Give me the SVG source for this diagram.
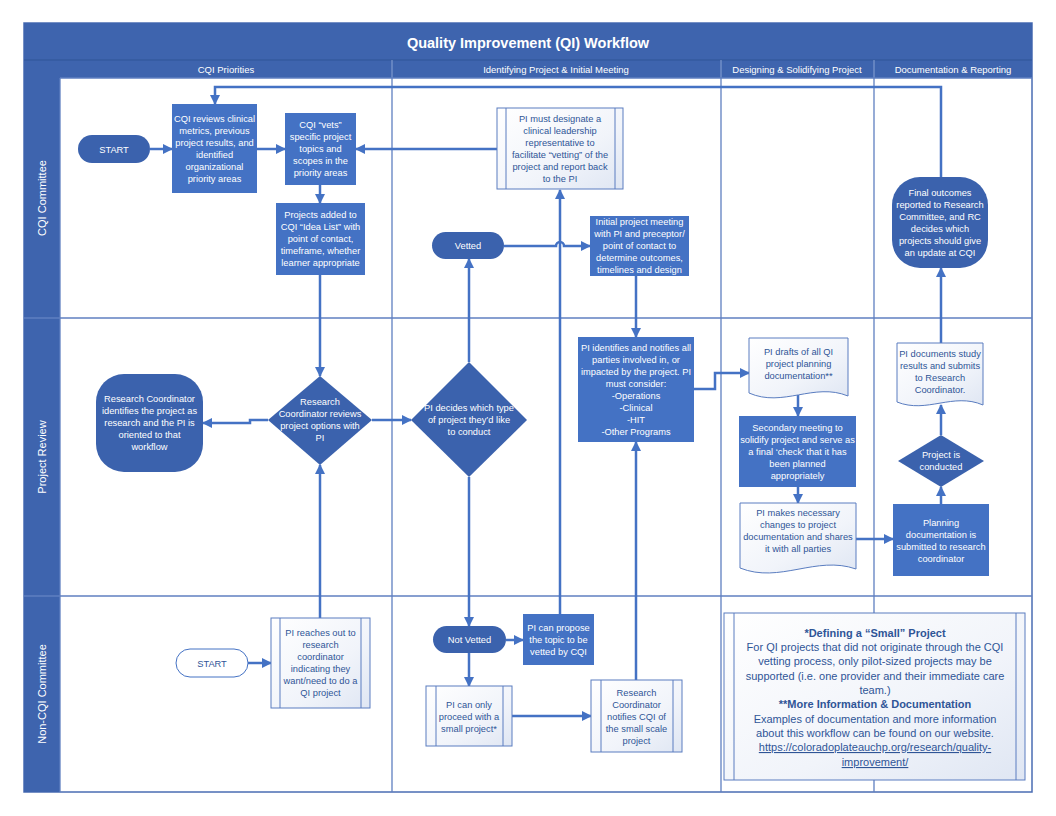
<svg xmlns="http://www.w3.org/2000/svg" width="1056" height="816" viewBox="0 0 1056 816">
<defs>
<linearGradient id="lg" x1="0" y1="0" x2="1" y2="1">
<stop offset="0" stop-color="#ffffff"/>
<stop offset="0.6" stop-color="#f1f4fa"/>
<stop offset="1" stop-color="#dfe6f3"/>
</linearGradient>
<marker id="ah" viewBox="0 0 10 10" refX="9" refY="5" markerWidth="10" markerHeight="10" markerUnits="userSpaceOnUse" orient="auto">
<path d="M0,0 L10,5 L0,10 z" fill="#4472c4"/>
</marker>
</defs>
<style>
text{font-family:"Liberation Sans",Arial,sans-serif;text-anchor:middle}
.w{fill:#ffffff;font-size:9.3px}
.b{fill:#2f5597;font-size:9.3px}
.hd{fill:#ffffff;font-size:9.5px}
.ln{fill:#ffffff;font-size:11px}
.nt{fill:#2f5597;font-size:11px}
.bar{fill:#3e64ae}
.proc{fill:#4472c4}
.dark{fill:#3b62ad}
.lite{fill:url(#lg);stroke:#5a7dc0;stroke-width:1}
.inner{stroke:#5a7dc0;stroke-width:1}
.grid{stroke:#5f7fc0;stroke-width:1.3;fill:none}
.hdiv{stroke:#8aa3d4;stroke-width:1}
.conn{fill:none;stroke:#4472c4;stroke-width:2.5;marker-end:url(#ah)}
.plain{fill:none;stroke:#4472c4;stroke-width:2.5}
</style>
<rect x="0" y="0" width="1056" height="816" fill="#ffffff"/>

<g id="frame">
<rect x="24" y="23" width="1008" height="769" fill="#ffffff" stroke="#4a6cb3" stroke-width="1.5"/>
<rect class="bar" x="24" y="23" width="1008" height="37"/>
<rect class="bar" x="24" y="60" width="1008" height="18"/>
<rect class="bar" x="24" y="78" width="36" height="714"/>
<line x1="24" y1="60" x2="1032" y2="60" stroke="#2f5597" stroke-width="1"/>
<line class="hdiv" x1="392" y1="60" x2="392" y2="78"/>
<line class="hdiv" x1="721" y1="60" x2="721" y2="78"/>
<line class="hdiv" x1="874" y1="60" x2="874" y2="78"/>
<line class="grid" x1="60" y1="78" x2="1032" y2="78"/>
<line class="grid" x1="392" y1="78" x2="392" y2="792"/>
<line class="grid" x1="721" y1="78" x2="721" y2="792"/>
<line class="grid" x1="874" y1="78" x2="874" y2="792"/>
<line class="grid" x1="24" y1="318" x2="1032" y2="318"/>
<line class="grid" x1="24" y1="596" x2="1032" y2="596"/>
<line class="grid" x1="60" y1="78" x2="60" y2="792"/>
<text x="528" y="48" fill="#ffffff" font-size="14.5px" font-weight="bold">Quality Improvement (QI) Workflow</text>
<text class="hd" x="226" y="72.5">CQI Priorities</text>
<text class="hd" x="556" y="72.5">Identifying Project &amp; Initial Meeting</text>
<text class="hd" x="797" y="72.5">Designing &amp; Solidifying Project</text>
<text class="hd" x="953" y="72.5">Documentation &amp; Reporting</text>
<text class="ln" transform="translate(46,198) rotate(-90)">CQI Committee</text>
<text class="ln" transform="translate(46,457) rotate(-90)">Project Review</text>
<text class="ln" transform="translate(46,694) rotate(-90)">Non-CQI Committee</text>
</g>

<g id="connectors">
<path class="conn" d="M150,149 H172"/>
<path class="conn" d="M257,149 H285"/>
<path class="conn" d="M320,185 V203"/>
<path class="conn" d="M320,275 V376"/>
<path class="conn" d="M268,420 H250 V423 H203"/>
<path class="conn" d="M320,618 V465"/>
<path class="conn" d="M372,420 H411"/>
<path class="conn" d="M469,362 V259"/>
<path class="conn" d="M504,246 H556 A4,4 0 0 1 564,246 H590"/>
<path class="conn" d="M560,614 V190"/>
<path class="conn" d="M497,149 H356"/>
<path class="conn" d="M636,276 V337"/>
<path class="conn" d="M636,680 V442"/>
<path class="conn" d="M694,389 H715 V373 H749"/>
<path class="conn" d="M798,395 V416"/>
<path class="conn" d="M798,487 V503"/>
<path class="conn" d="M856,539 H893"/>
<path class="conn" d="M941,504 V487"/>
<path class="conn" d="M941,435 V405"/>
<path class="conn" d="M941,343 V268"/>
<path class="conn" d="M941,177 V87 H215 V104"/>
<path class="conn" d="M469,477 V626"/>
<path class="conn" d="M248,663 H271"/>
<path class="conn" d="M506,640 H523"/>
<path class="conn" d="M469,653 V686"/>
<path class="conn" d="M512,716 H591"/>
</g>

<g id="start-cqi">
<rect class="dark" x="78" y="135" width="72" height="28" rx="14"/>
<text class="w" x="114" y="152.5" font-size="9.5px">START</text>
</g>

<g id="cqi-reviews">
<rect class="proc" x="172" y="104" width="85" height="89"/>
<text class="w" x="214.5" y="122">CQI reviews clinical</text>
<text class="w" x="214.5" y="134">metrics, previous</text>
<text class="w" x="214.5" y="146">project results, and</text>
<text class="w" x="214.5" y="158">identified</text>
<text class="w" x="214.5" y="170">organizational</text>
<text class="w" x="214.5" y="182">priority areas</text>
</g>

<g id="cqi-vets">
<rect class="proc" x="285" y="113" width="71" height="72"/>
<text class="w" x="320.5" y="128">CQI “vets”</text>
<text class="w" x="320.5" y="140">specific project</text>
<text class="w" x="320.5" y="152">topics and</text>
<text class="w" x="320.5" y="164">scopes in the</text>
<text class="w" x="320.5" y="176">priority areas</text>
</g>

<g id="idea-list">
<rect class="proc" x="276" y="203" width="89" height="72"/>
<text class="w" x="320.5" y="218">Projects added to</text>
<text class="w" x="320.5" y="230">CQI “Idea List” with</text>
<text class="w" x="320.5" y="242">point of contact,</text>
<text class="w" x="320.5" y="254">timeframe, whether</text>
<text class="w" x="320.5" y="266">learner appropriate</text>
</g>

<g id="rc-reviews">
<path class="dark" d="M320,376 L372,420 L320,465 L268,420 Z"/>
<text class="w" x="320" y="405">Research</text>
<text class="w" x="320" y="417">Coordinator reviews</text>
<text class="w" x="320" y="429">project options with</text>
<text class="w" x="320" y="441">PI</text>
</g>

<g id="rc-identifies">
<rect class="dark" x="96" y="374" width="107" height="98" rx="28" ry="28"/>
<text class="w" x="149.5" y="402">Research Coordinator</text>
<text class="w" x="149.5" y="414">identifies the project as</text>
<text class="w" x="149.5" y="426">research and the PI is</text>
<text class="w" x="149.5" y="438">oriented to that</text>
<text class="w" x="149.5" y="450">workflow</text>
</g>

<g id="pi-decides">
<path class="dark" d="M469,362 L527,420 L469,477 L411,420 Z"/>
<text class="w" x="469" y="411">PI decides which type</text>
<text class="w" x="469" y="423">of project they’d like</text>
<text class="w" x="469" y="435">to conduct</text>
</g>

<g id="vetted">
<rect class="dark" x="432" y="232" width="72" height="27" rx="13.5"/>
<text class="w" x="468" y="249" font-size="9.5px">Vetted</text>
</g>

<g id="pi-designate">
<rect class="lite" x="497" y="108" width="126" height="81"/>
<line class="inner" x1="506" y1="108" x2="506" y2="189"/>
<line class="inner" x1="615" y1="108" x2="615" y2="189"/>
<text class="b" x="560" y="122">PI must designate a</text>
<text class="b" x="560" y="134">clinical leadership</text>
<text class="b" x="560" y="146">representative to</text>
<text class="b" x="560" y="158">facilitate “vetting” of the</text>
<text class="b" x="560" y="170">project and report back</text>
<text class="b" x="560" y="182">to the PI</text>
</g>

<g id="initial-meeting">
<rect class="proc" x="590" y="216" width="99" height="60"/>
<text class="w" x="639.5" y="225">Initial project meeting</text>
<text class="w" x="639.5" y="237">with PI and preceptor/</text>
<text class="w" x="639.5" y="249">point of contact to</text>
<text class="w" x="639.5" y="261">determine outcomes,</text>
<text class="w" x="639.5" y="273">timelines and design</text>
</g>

<g id="pi-identifies">
<rect class="proc" x="578" y="337" width="116" height="105"/>
<text class="w" x="636" y="351">PI identifies and notifies all</text>
<text class="w" x="636" y="363">parties involved in, or</text>
<text class="w" x="636" y="375">impacted by the project. PI</text>
<text class="w" x="636" y="387">must consider:</text>
<text class="w" x="636" y="399">-Operations</text>
<text class="w" x="636" y="411">-Clinical</text>
<text class="w" x="636" y="423">-HIT</text>
<text class="w" x="636" y="435">-Other Programs</text>
</g>

<g id="pi-drafts">
<path class="lite" d="M749,338 H848 V396 C814,382 783,408 749,393 Z"/>
<text class="b" x="798.5" y="355">PI drafts of all QI</text>
<text class="b" x="798.5" y="367">project planning</text>
<text class="b" x="798.5" y="379">documentation**</text>
</g>

<g id="secondary-meeting">
<rect class="proc" x="739" y="416" width="117" height="71"/>
<text class="w" x="797.5" y="431">Secondary meeting to</text>
<text class="w" x="797.5" y="443">solidify project and serve as</text>
<text class="w" x="797.5" y="455">a final ‘check’ that it has</text>
<text class="w" x="797.5" y="467">been planned</text>
<text class="w" x="797.5" y="479">appropriately</text>
</g>

<g id="pi-makes-changes">
<path class="lite" d="M740,503 H856 V569 C816,555 780,584 740,568 Z"/>
<text class="b" x="798" y="516">PI makes necessary</text>
<text class="b" x="798" y="528">changes to project</text>
<text class="b" x="798" y="540">documentation and shares</text>
<text class="b" x="798" y="552">it with all parties</text>
</g>

<g id="planning-submitted">
<rect class="proc" x="893" y="504" width="96" height="72"/>
<text class="w" x="941" y="526">Planning</text>
<text class="w" x="941" y="538">documentation is</text>
<text class="w" x="941" y="550">submitted to research</text>
<text class="w" x="941" y="562">coordinator</text>
</g>

<g id="project-conducted">
<path class="dark" d="M941,435 L984,461 L941,487 L898,461 Z"/>
<text class="w" x="941" y="458">Project is</text>
<text class="w" x="941" y="470">conducted</text>
</g>

<g id="pi-documents">
<path class="lite" d="M897,343 H983 V405 C953,392 927,414 897,402 Z"/>
<text class="b" x="940" y="357">PI documents study</text>
<text class="b" x="940" y="369">results and submits</text>
<text class="b" x="940" y="381">to Research</text>
<text class="b" x="940" y="393">Coordinator.</text>
</g>

<g id="final-outcomes">
<rect class="dark" x="892" y="177" width="96" height="91" rx="28" ry="28"/>
<text class="w" x="940" y="196">Final outcomes</text>
<text class="w" x="940" y="208">reported to Research</text>
<text class="w" x="940" y="220">Committee, and RC</text>
<text class="w" x="940" y="232">decides which</text>
<text class="w" x="940" y="244">projects should give</text>
<text class="w" x="940" y="256">an update at CQI</text>
</g>

<g id="start-noncqi">
<rect x="176" y="649" width="72" height="28" rx="14" fill="#ffffff" stroke="#4472c4" stroke-width="1"/>
<text class="b" x="212" y="666.5" font-size="9.5px">START</text>
</g>

<g id="pi-reaches-out">
<rect class="lite" x="271" y="618" width="99" height="90"/>
<line class="inner" x1="280" y1="618" x2="280" y2="708"/>
<line class="inner" x1="361" y1="618" x2="361" y2="708"/>
<text class="b" x="320.5" y="636">PI reaches out to</text>
<text class="b" x="320.5" y="648">research</text>
<text class="b" x="320.5" y="660">coordinator</text>
<text class="b" x="320.5" y="672">indicating they</text>
<text class="b" x="320.5" y="684">want/need to do a</text>
<text class="b" x="320.5" y="696">QI project</text>
</g>

<g id="not-vetted">
<rect class="dark" x="433" y="626" width="73" height="27" rx="13.5"/>
<text class="w" x="469.5" y="643" font-size="9.5px">Not Vetted</text>
</g>

<g id="pi-can-propose">
<rect class="proc" x="523" y="614" width="71" height="51"/>
<text class="w" x="558.5" y="631">PI can propose</text>
<text class="w" x="558.5" y="643">the topic to be</text>
<text class="w" x="558.5" y="655">vetted by CQI</text>
</g>

<g id="pi-small-project">
<rect class="lite" x="426" y="686" width="86" height="60"/>
<line class="inner" x1="436" y1="686" x2="436" y2="746"/>
<line class="inner" x1="503" y1="686" x2="503" y2="746"/>
<text class="b" x="469" y="708">PI can only</text>
<text class="b" x="469" y="720">proceed with a</text>
<text class="b" x="469" y="732">small project*</text>
</g>

<g id="rc-notifies">
<rect class="lite" x="591" y="680" width="91" height="72"/>
<line class="inner" x1="601" y1="680" x2="601" y2="752"/>
<line class="inner" x1="673" y1="680" x2="673" y2="752"/>
<text class="b" x="636.5" y="696">Research</text>
<text class="b" x="636.5" y="708">Coordinator</text>
<text class="b" x="636.5" y="720">notifies CQI of</text>
<text class="b" x="636.5" y="732">the small scale</text>
<text class="b" x="636.5" y="744">project</text>
</g>

<g id="notes">
<rect class="lite" x="724" y="613" width="301" height="167"/>
<line class="inner" x1="734" y1="613" x2="734" y2="780"/>
<line class="inner" x1="1016" y1="613" x2="1016" y2="780"/>
<text class="nt" x="875" y="636.5" font-weight="bold">*Defining a “Small” Project</text>
<text class="nt" x="875" y="651">For QI projects that did not originate through the CQI</text>
<text class="nt" x="875" y="665">vetting process, only pilot-sized projects may be</text>
<text class="nt" x="875" y="679.5">supported (i.e. one provider and their immediate care</text>
<text class="nt" x="875" y="694">team.)</text>
<text class="nt" x="875" y="708" font-weight="bold">**More Information &amp; Documentation</text>
<text class="nt" x="875" y="722.5">Examples of documentation and more information</text>
<text class="nt" x="875" y="737">about this workflow can be found on our website.</text>
<text class="nt" x="875" y="751" text-decoration="underline">https://coloradoplateauchp.org/research/quality-</text>
<text class="nt" x="875" y="766" text-decoration="underline">improvement/</text>
</g>
</svg>
